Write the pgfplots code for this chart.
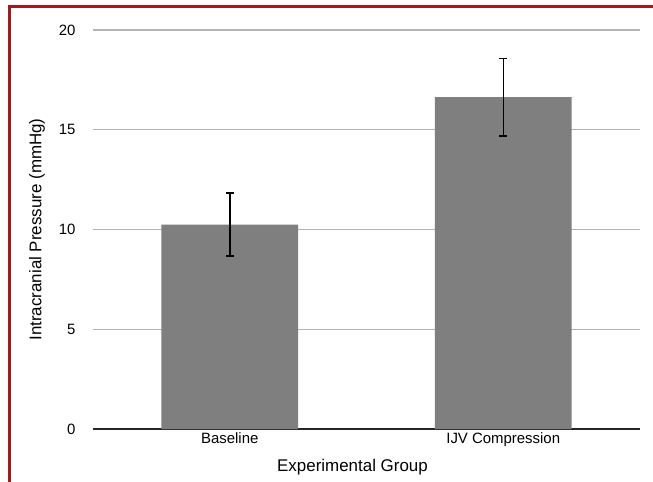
\documentclass[border=0pt]{standalone}
\usepackage{pgfplots}
\pgfplotsset{compat=1.18}
\usepackage{fontspec}
\setmainfont{Liberation Sans}
\definecolor{bordred}{HTML}{A21A1A}
\definecolor{barg}{HTML}{7F7F7F}
\definecolor{gridg}{HTML}{B4B4B4}
\begin{document}
\begin{tikzpicture}
\path[use as bounding box, fill=white] (-93bp,-53bp) rectangle (560bp,429bp);
\begin{axis}[
  at={(0,0)}, anchor=south west,
  scale only axis, width=547bp, height=399bp,
  xmin=-0.5, xmax=1.5, ymin=0, ymax=20,
  ytick={0,5,10,15,20},
  xtick={0,1}, xticklabels={Baseline, IJV Compression},
  axis x line=bottom, axis y line=left,
  x axis line style={-, draw=black!85, line width=1.3bp},
  y axis line style={draw=none},
  major tick length=0pt,
  ymajorgrids, grid style={gridg, line width=1.3bp},
  /pgf/number format/assume math mode=true,
  tick label style={font=\fontsize{15}{18}\selectfont},
  yticklabel style={xshift=-14bp},
  label style={font=\fontsize{17}{20}\selectfont},
  xlabel={Experimental Group},
  ylabel={Intracranial Pressure (mmHg)},
  xlabel style={at={(axis description cs:0.5,0)}, anchor=center, yshift=-38bp, xshift=-14bp},
  ylabel style={at={(axis description cs:0,0.5)}, anchor=center, xshift=0bp, yshift=56bp},
  ybar, bar width=0.5,
]
\addplot[fill=barg, draw=none,
  error bars/.cd, y dir=both, y explicit, error mark=|,
  error bar style={draw=black, line width=1.5bp},
  error mark options={draw=black, line width=1.8bp, mark size=4bp}]
  coordinates {(0,10.25) +- (0,1.58) (1,16.63) +- (0,1.94)};
\end{axis}
\draw[bordred, line width=3bp] (-83bp,-53bp) -- (-83bp,422bp) -- (560bp,422bp);
\end{tikzpicture}
\end{document}
